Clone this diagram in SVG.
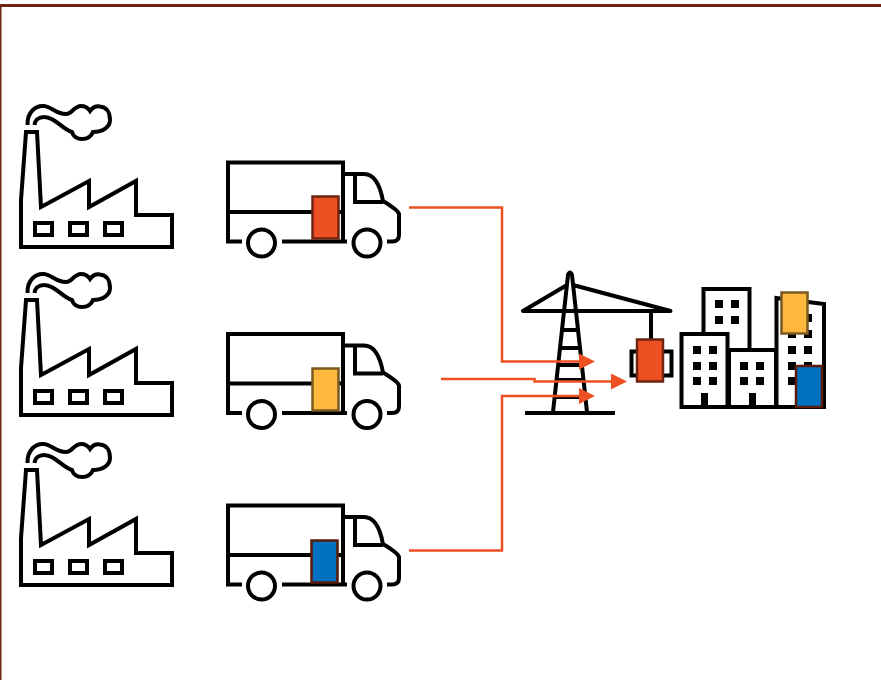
<svg xmlns="http://www.w3.org/2000/svg" xmlns:xlink="http://www.w3.org/1999/xlink" width="881" height="680" viewBox="0 0 881 680">
<style>
.k{fill:none;stroke:#000;stroke-width:4}
.ku{fill:#fff;stroke:#000;stroke-width:4}
.w{fill:#000}
.o{fill:#ED5022;stroke:#6E2410;stroke-width:2.5}
.y{fill:#FFB83D;stroke:#7A5A20;stroke-width:2.5}
.b{fill:#0070C0;stroke:#5C1A08;stroke-width:2.5}
.c{fill:none;stroke:#ED5022;stroke-width:2.5}
</style>
<defs>
<marker id="ah" markerUnits="userSpaceOnUse" markerWidth="16" markerHeight="16" refX="10" refY="8" orient="auto"><path d="M0 0L16 8L0 16Z" fill="#ED5022"/></marker>
<g id="factory">
<path class="k" stroke-linejoin="miter" d="M21 247V200L26 132H37L41 207L89 181V207L136 181V215H172V247Z"/>
<rect class="k" x="35" y="223" width="17" height="12"/><rect class="k" x="70" y="223" width="17" height="12"/><rect class="k" x="105" y="223" width="17" height="12"/>
<path class="k" d="M27.500 125C27 112 36 105 44 106C52 107 56 114 66 114C72 114 74 106 81 106C86 106 88 108 90 111C93 107 97 106 100 106.500C107 107 110 113 110 120C110 127 103 132 93 132C91 137 87 139 82 139C77 139 73 136 72 132C62 129 55 117 44 117C39 117 35 120 34.500 125"/>
</g>
<g id="truck">
<path class="k" d="M242 241.500H228V162.500H343V241.500M228 212H343M282 241.500H347M387 241.500H392Q399 241.500 399 235V214Q398 210 383 201Q378 174 364 174H343M355 174V202H383"/>
<circle class="k" cx="261.500" cy="243" r="13.500"/><circle class="k" cx="367" cy="243" r="13.500"/>
</g>
</defs>
<rect x="0" y="5.500" width="890" height="690" fill="#fff" stroke="#6E2410" stroke-width="3"/>
<g id="factory-1"><use href="#factory"/></g>
<g id="factory-2"><use href="#factory" y="168"/></g>
<g id="factory-3"><use href="#factory" y="338"/></g>
<g id="truck-1"><use href="#truck"/><rect class="o" x="312.500" y="196.500" width="26" height="42"/></g>
<g id="truck-2"><use href="#truck" y="171.500"/><rect class="y" x="312.500" y="368.500" width="26" height="42"/></g>
<g id="truck-3"><use href="#truck" y="343"/><rect class="b" x="311.500" y="540.500" width="26" height="42"/></g>
<g id="tower">
<path class="k" stroke-linecap="round" stroke-linejoin="round" d="M553 412L568 275Q570 270 572 275L587 412M523 311H670.500L573 285M523 311L567 285M651 311V339"/>
<path d="M525 413H615" stroke="#000" stroke-width="4" fill="none"/>
<path class="k" d="M563 330H578M560.500 348H580.500M558 365H583M556.500 380H585M555 397H586"/>
<rect class="ku" x="631.500" y="351.500" width="40" height="24"/>
<rect class="o" x="637" y="339.500" width="26" height="42"/>
</g>
<g id="city">
<rect class="ku" x="703.500" y="289" width="46" height="62"/>
<path class="ku" d="M776.500 407V298L824 304V407Z"/>
<rect class="ku" x="729" y="350" width="47" height="57"/>
<rect class="ku" x="681.500" y="334" width="46" height="73"/>
<g class="w">
<rect x="715" y="300" width="8" height="8"/><rect x="731" y="300" width="8" height="8"/><rect x="715" y="316" width="8" height="8"/><rect x="731" y="316" width="8" height="8"/>
<rect x="693" y="346" width="8" height="8"/><rect x="709" y="346" width="8" height="8"/><rect x="693" y="362" width="8" height="8"/><rect x="709" y="362" width="8" height="8"/><rect x="693" y="377" width="8" height="8"/><rect x="709" y="377" width="8" height="8"/><rect x="701" y="393" width="7" height="14"/>
<rect x="740" y="362" width="8" height="8"/><rect x="756" y="362" width="8" height="8"/><rect x="740" y="377" width="8" height="8"/><rect x="756" y="377" width="8" height="8"/><rect x="749" y="393" width="7" height="14"/>
<rect x="788" y="314" width="8" height="8"/><rect x="804" y="314" width="8" height="8"/><rect x="788" y="330" width="8" height="8"/><rect x="804" y="330" width="8" height="8"/><rect x="788" y="346" width="8" height="8"/><rect x="804" y="346" width="8" height="8"/><rect x="788" y="362" width="8" height="8"/><rect x="804" y="362" width="8" height="8"/><rect x="788" y="377" width="8" height="8"/>
</g>
<rect class="y" x="781.500" y="292.500" width="26" height="41"/>
<rect class="b" x="796" y="366" width="26" height="41"/>
</g>
<g id="connectors">
<path class="c" marker-end="url(#ah)" d="M409 207.500H502V361.500H589"/>
<path class="c" marker-end="url(#ah)" d="M441 379H534.500V381.500H621"/>
<path class="c" marker-end="url(#ah)" d="M409 550.500H502V396H589"/>
</g>
</svg>
